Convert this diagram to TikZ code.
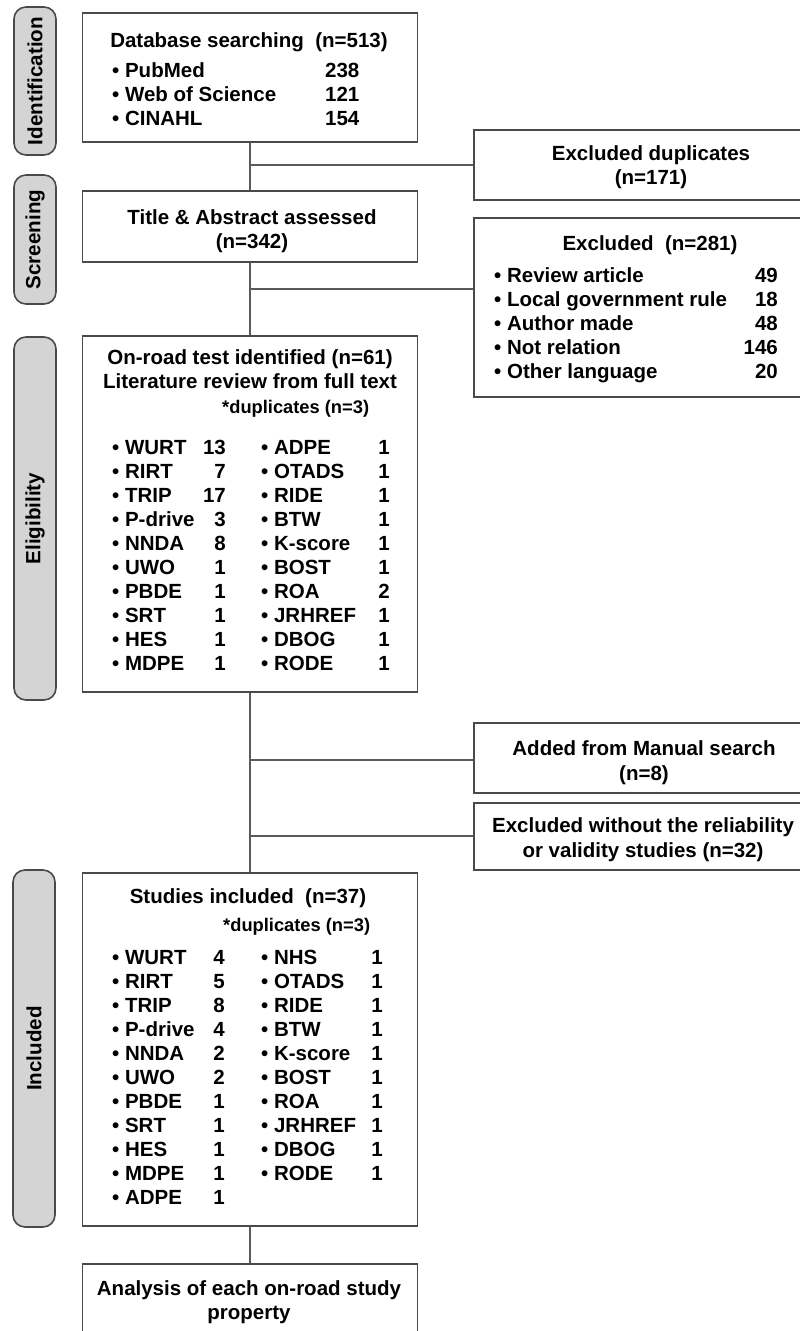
\documentclass[tikz,border=0pt]{standalone}
\usepackage{fontspec}
\setmainfont{Liberation Sans}
\definecolor{boxc}{HTML}{4A4A4A}
\definecolor{linec}{HTML}{5A5A5A}
\definecolor{sidefill}{HTML}{D4D4D4}
\begin{document}
\begin{tikzpicture}[x=1pt,y=-1pt,
  box/.style={draw=boxc, line width=1.6pt, minimum width=335pt, inner sep=0pt},
  rbox/.style={draw=boxc, line width=1.6pt, minimum width=352pt, inner sep=0pt},
  side/.style={draw=boxc, fill=sidefill, line width=1.6pt, rounded corners=12pt, rotate=90,
    minimum height=42pt, inner sep=0pt, font=\bfseries\fontsize{20.6}{24}\selectfont},
  tx/.style={anchor=base, inner sep=0pt, font=\bfseries\fontsize{20.5}{24}\selectfont},
  tl/.style={tx, anchor=base west},
  tr/.style={tx, anchor=base east},
  sm/.style={anchor=base west, inner sep=0pt, font=\bfseries\fontsize{18.3}{22}\selectfont},
  conn/.style={draw=linec, line width=1.6pt}
]
\fill[white] (0,0) rectangle (800,1331);
\clip (0,0) rectangle (800,1331);

% side labels
\node[side, minimum width=148pt] (sid) at (35,81) {Identification};
\node[side, minimum width=129pt] (sscr) at (35,239.5) {Screening};
\node[side, minimum width=363pt] (selig) at (35,518.5) {Eligibility};
\node[side, minimum width=357pt] (sinc) at (34,1048.5) {Included};

% main boxes
\node[box, minimum height=129pt] (db) at (250,77.5) {};
\node[box, minimum height=71pt] (title) at (250,226.5) {};
\node[box, minimum height=356pt] (onroad) at (250,514) {};
\node[box, minimum height=353pt] (studies) at (250,1049.5) {};
\node[box, minimum height=81pt] (analysis) at (250,1304.5) {};

% right boxes
\node[rbox, minimum height=70pt] (exdup) at (650,165) {};
\node[rbox, minimum height=179pt] (ex281) at (650,307.5) {};
\node[rbox, minimum height=70pt] (added) at (650,758) {};
\node[rbox, minimum height=67pt] (exwo) at (650,836.5) {};

% connectors
\draw[conn] (db.south) -- (title.north);
\draw[conn] (title.south) -- (onroad.north);
\draw[conn] (onroad.south) -- (studies.north);
\draw[conn] (studies.south) -- (analysis.north);
\coordinate (b1) at (250,165);
\coordinate (b2) at (250,289);
\coordinate (b3) at (250,760);
\coordinate (b4) at (250,836);
\draw[conn] (b1) -- (b1 -| exdup.west);
\draw[conn] (b2) -- (b2 -| ex281.west);
\draw[conn] (b3) -- (b3 -| added.west);
\draw[conn] (b4) -- (b4 -| exwo.west);

% database box text
\node[tx] (dbt) at (249,47) {Database searching\ \ (n=513)};
\node[tl] (db1) at (112,77) {• PubMed};
\node[tl] (db2) at (112,101) {• Web of Science};
\node[tl] (db3) at (112,125) {• CINAHL};
\node[tl] (db1n) at (325,77) {238};
\node[tl] (db2n) at (325,101) {121};
\node[tl] (db3n) at (325,125) {154};

% title box text
\node[tx] (tt1) at (252,224) {Title \& Abstract assessed};
\node[tx] (tt2) at (252,248) {(n=342)};

% on-road box
\node[tx] (or1) at (250,364) {On-road test identified (n=61)};
\node[tx] (or2) at (250,388) {Literature review from full text};
\node[sm] (or3) at (222,413) {*duplicates (n=3)};
\foreach \n/\v [count=\i from 0] in {WURT/13,RIRT/7,TRIP/17,P-drive/3,NNDA/8,UWO/1,PBDE/1,SRT/1,HES/1,MDPE/1}{
  \node[tl] (el\i) at (112,454+24*\i) {• \n};
  \node[tr] (elv\i) at (226,454+24*\i) {\v};
}
\foreach \n/\v [count=\i from 0] in {ADPE/1,OTADS/1,RIDE/1,BTW/1,K-score/1,BOST/1,ROA/2,JRHREF/1,DBOG/1,RODE/1}{
  \node[tl] (er\i) at (261,454+24*\i) {• \n};
  \node[tr] (erv\i) at (390,454+24*\i) {\v};
}

% studies box
\node[tx] (st1) at (248,903) {Studies included\ \ (n=37)};
\node[sm] (st2) at (223,931) {*duplicates (n=3)};
\foreach \n/\v [count=\i from 0] in {WURT/4,RIRT/5,TRIP/8,P-drive/4,NNDA/2,UWO/2,PBDE/1,SRT/1,HES/1,MDPE/1,ADPE/1}{
  \node[tl] (sl\i) at (112,964+24*\i) {• \n};
  \node[tr] (slv\i) at (225,964+24*\i) {\v};
}
\foreach \n/\v [count=\i from 0] in {NHS/1,OTADS/1,RIDE/1,BTW/1,K-score/1,BOST/1,ROA/1,JRHREF/1,DBOG/1,RODE/1}{
  \node[tl] (sr\i) at (261,964+24*\i) {• \n};
  \node[tr] (srv\i) at (383,964+24*\i) {\v};
}

% analysis
\node[tx] (an1) at (249,1295) {Analysis of each on-road study};
\node[tx] (an2) at (249,1319) {property};

% right texts
\node[tx] (xd1) at (651,160) {Excluded duplicates};
\node[tx] (xd2) at (651,184) {(n=171)};
\node[tx] (x21) at (650,250) {Excluded\ \ (n=281)};
\foreach \n/\v [count=\i from 0] in {Review article/49,Local government rule/18,Author made/48,Not relation/146,Other language/20}{
  \node[tl] (xl\i) at (494,282+24*\i) {• \n};
  \node[tr] (xv\i) at (778,282+24*\i) {\v};
}
\node[tx] (ad1) at (644,755) {Added from Manual search};
\node[tx] (ad2) at (644,780) {(n=8)};
\node[tx] (xw1) at (643,832) {Excluded without the reliability};
\node[tx] (xw2) at (643,857) {or validity studies (n=32)};
\end{tikzpicture}
\end{document}
